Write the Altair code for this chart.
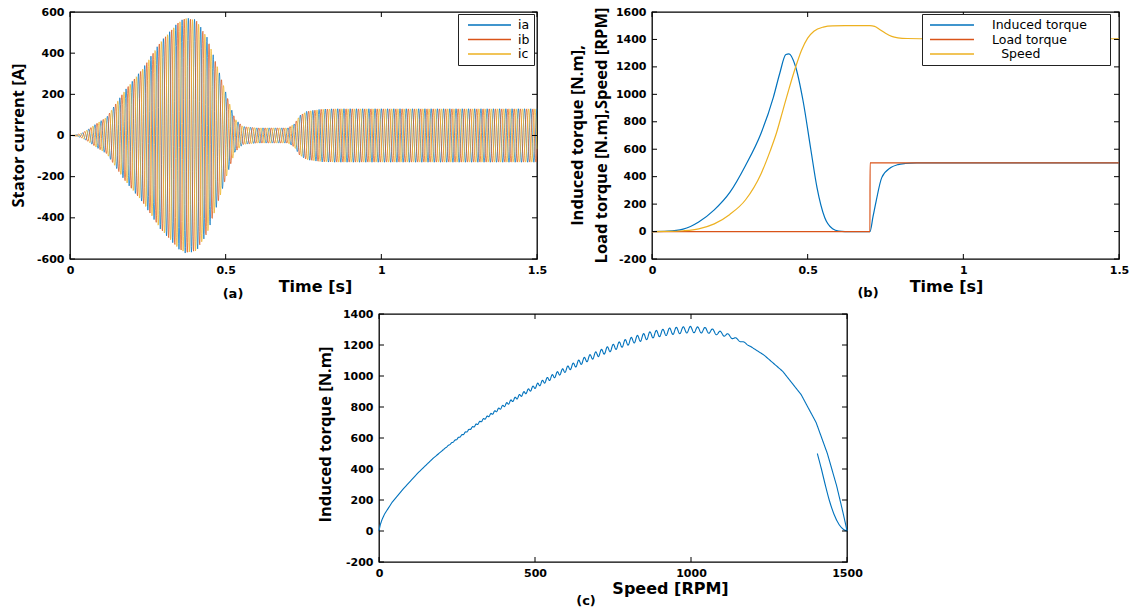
import numpy as np
import pandas as pd
import altair as alt

BLUE, ORANGE, YELLOW = "#0072BD", "#D95319", "#EDB120"

# ---------------- (a) stator currents ----------------
# envelope (peak amplitude, A)
a_env_time = [0, 0.02, 0.038, 0.061, 0.084, 0.118, 0.176, 0.233, 0.29, 0.348, 0.371,
              0.405, 0.44, 0.474, 0.509, 0.53, 0.555, 0.6, 0.7, 0.721, 0.738, 0.761,
              0.807, 0.85, 1.5]
a_env_amp = [0, 3, 11, 32, 57, 89, 219, 324, 454, 551, 572,
             563, 478, 332, 170, 81, 44, 37, 37, 57, 97, 118,
             128, 130, 130]
a_series = ["ia", "ib", "ic"]
a_phase_deg = [0, -120, 120]
a_supply_hz = 50
a_xticks = [0, 0.5, 1, 1.5]
a_yticks = [-600, -400, -200, 0, 200, 400, 600]

# ---------------- (b) torques and speed vs time ----------------
BLANK = "\u2800"
b_series = ["Induced torque", "Load torque", "Speed"]
b_legend_labels = ["Induced torque" + BLANK + BLANK, "Load torque", BLANK + "Speed"]
b_ind_time = [0, 0.05, 0.1, 0.15, 0.2, 0.25, 0.3, 0.35, 0.39, 0.41, 0.43, 0.44, 0.46,
              0.485, 0.51, 0.53, 0.555, 0.58, 0.6, 0.62, 0.7, 0.71, 0.72, 0.738,
              0.767, 0.79, 0.814, 0.85, 1.5]
b_ind_torque = [0, 3, 18, 70, 158, 285, 480, 715, 980, 1150, 1290, 1295, 1210,
                955, 600, 320, 100, 20, 3, 0, 0, 110, 222, 393,
                466, 488, 496, 500, 500]
b_load_time = [0, 0.7, 0.7005, 1.5]
b_load_torque = [0, 0, 500, 500]
b_speed_time = [0, 0.05, 0.1, 0.15, 0.2, 0.25, 0.3, 0.35, 0.38, 0.4, 0.42, 0.44, 0.46,
                0.48, 0.5, 0.52, 0.55, 0.58, 0.62, 0.7, 0.715, 0.73, 0.75, 0.77,
                0.79, 0.82, 0.9, 1.5]
b_speed_rpm = [0, 1, 6, 20, 56, 125, 230, 420, 590, 720, 880, 1040, 1190,
               1320, 1410, 1460, 1490, 1499, 1500, 1500, 1495, 1475, 1445, 1422,
               1412, 1407, 1405, 1405]
b_xticks = [0, 0.5, 1, 1.5]
b_yticks = [-200, 0, 200, 400, 600, 800, 1000, 1200, 1400, 1600]

# ---------------- (c) torque vs speed ----------------
c_speed = [0, 4, 10, 18, 42, 77, 125, 173, 220, 280, 340, 400, 459, 519, 578, 638,
           698, 757, 817, 876, 936, 996, 1055, 1115, 1174, 1234, 1294, 1353, 1401,
           1437, 1467, 1487, 1497, 1500]
c_torque = [0, 40, 75, 110, 185, 270, 375, 468, 548, 640, 727, 808, 882, 954, 1020, 1083,
            1140, 1190, 1234, 1267, 1289, 1300, 1294, 1265, 1212, 1135, 1030, 880, 700,
            500, 290, 120, 30, 0]
c_ripple_speed = [0, 200, 250, 350, 450, 550, 650, 750, 850, 950, 1050, 1100, 1150, 1200, 1500]
c_ripple_amp = [0, 0, 3, 6, 10, 14, 18, 20, 22, 22, 18, 13, 6, 0, 0]
c_ripple_period = [10, 10, 11, 12, 14, 16, 18, 19, 20, 22, 24, 25, 26, 26, 26]
c_load_speed = [1405, 1418, 1430, 1443, 1458, 1475, 1490, 1500]
c_load_torque = [500, 400, 300, 200, 110, 40, 8, 0]
c_xticks = [0, 500, 1000, 1500]
c_yticks = [-200, 0, 200, 400, 600, 800, 1000, 1200, 1400]

W, H = 467, 247

LABEL = dict(labelFont="DejaVu Sans", labelFontWeight="bold", labelFontSize=11,
             labelColor="black", ticks=False, domain=False, grid=False,
             labelExpr="datum.value")


def x_axis(values, title, tx, ty):
    return alt.Axis(values=values, title=title, titleX=tx, titleY=ty,
                    titleFont="DejaVu Sans", titleFontSize=16, titleFontWeight="bold",
                    titleColor="black", titleAlign="center", titleBaseline="top",
                    labelFlush=False, labelPadding=5, **LABEL)


def y_axis(values, title, tx, ty):
    return alt.Axis(values=values, title=title, titleX=tx, titleY=ty, titleAngle=270,
                    titleFont="Open Sans", titleFontSize=16.5, titleFontWeight="bold",
                    titleColor="black", titleAlign="center", titleBaseline="middle",
                    titleLineHeight=24, labelPadding=6, **LABEL)


def frame_ticks(xt, yt, w, h, x_enc, y_enc):
    xdf = pd.DataFrame({"x": xt})
    ydf = pd.DataFrame({"y": yt})
    tl = 5
    rule = dict(color="black", strokeWidth=1)
    return [
        alt.Chart(ydf).mark_rule(**rule).encode(y=y_enc, x=alt.value(0), x2=alt.value(tl)),
        alt.Chart(ydf).mark_rule(**rule).encode(y=y_enc, x=alt.value(w - tl), x2=alt.value(w)),
        alt.Chart(xdf).mark_rule(**rule).encode(x=x_enc, y=alt.value(h - tl), y2=alt.value(h)),
        alt.Chart(xdf).mark_rule(**rule).encode(x=x_enc, y=alt.value(0), y2=alt.value(tl)),
    ]


def tag(text, x, y):
    return alt.Chart(pd.DataFrame({"t": [text]})).mark_text(
        font="DejaVu Sans", fontWeight="bold", fontSize=13, color="black",
        align="center", baseline="middle").encode(text="t:N", x=alt.value(x), y=alt.value(y))


def box_legend(lx, ly, path, label_offset, label_expr=None):
    kw = dict(orient="none", legendX=lx, legendY=ly, title=None, fillColor="white",
              strokeColor="#222222", padding=4, symbolType=path, symbolSize=144,
              symbolStrokeWidth=1.4, symbolFillColor="transparent",
              labelFont="DejaVu Sans", labelFontSize=12.5,
              labelColor="black", labelOffset=label_offset, rowPadding=0.5)
    if label_expr:
        kw["labelExpr"] = label_expr
    return alt.Legend(**kw)


# ---- panel (a)
ta = np.round(np.arange(0, 1.5 + 1e-9, 0.001), 4)
env = np.interp(ta, a_env_time, a_env_amp)
a_frames = []
for name, ph in zip(a_series, a_phase_deg):
    a_frames.append(pd.DataFrame({
        "x": ta, "y": env * np.cos(2 * np.pi * a_supply_hz * ta + np.radians(ph)), "series": name}))
a_df = pd.concat(a_frames, ignore_index=True)

ax_enc = alt.X("x:Q", scale=alt.Scale(domain=[0, 1.5], nice=False, zero=False),
               axis=x_axis(a_xticks, "Time [s]", 245, 19))
ay_enc = alt.Y("y:Q", scale=alt.Scale(domain=[-600, 600], nice=False, zero=False),
               axis=y_axis(a_yticks, "Stator current [A]", -52, 123))
a_lines = alt.Chart(a_df).mark_line(strokeWidth=0.7).encode(
    x=ax_enc, y=ay_enc,
    color=alt.Color("series:N", scale=alt.Scale(domain=a_series, range=[BLUE, ORANGE, YELLOW]),
                    legend=box_legend(388, 2, "M-0.17,0H7", 42)),
)
panel_a = alt.layer(a_lines, *frame_ticks(a_xticks, a_yticks, W, H, ax_enc, ay_enc),
                    tag("(a)", 163, 282)).properties(width=W, height=H)

# ---- panel (b)
b_df = pd.concat([
    pd.DataFrame({"x": b_ind_time, "y": b_ind_torque, "series": b_series[0]}),
    pd.DataFrame({"x": b_load_time, "y": b_load_torque, "series": b_series[1]}),
    pd.DataFrame({"x": b_speed_time, "y": b_speed_rpm, "series": b_series[2]}),
], ignore_index=True)
bx_enc = alt.X("x:Q", scale=alt.Scale(domain=[0, 1.5], nice=False, zero=False),
               axis=x_axis(b_xticks, "Time [s]", 294, 19))
by_enc = alt.Y("y:Q", scale=alt.Scale(domain=[-200, 1600], nice=False, zero=False),
               axis=y_axis(b_yticks, ["Induced torque [N.m],", "Load torque [N.m],Speed [RPM]"], -75, 123))
b_expr = ("datum.label == '%s' ? '%s' : datum.label == '%s' ? '%s' : '%s'"
          % (b_series[0], b_legend_labels[0], b_series[1], b_legend_labels[1], b_legend_labels[2]))
b_lines = alt.Chart(b_df).mark_line(strokeWidth=1.2, interpolate="monotone").encode(
    x=bx_enc, y=by_enc,
    color=alt.Color("series:N", scale=alt.Scale(domain=b_series, range=[BLUE, ORANGE, YELLOW]),
                    legend=box_legend(270, 2, "M-0.5,0H6.83", 52, b_expr)),
)
panel_b = alt.layer(b_lines, *frame_ticks(b_xticks, b_yticks, W, H, bx_enc, by_enc),
                    tag("(b)", 216, 281)).properties(width=W, height=H)

# ---- panel (c)
sc = np.arange(0, 1500.5, 1.0)
base = np.interp(sc, c_speed, c_torque)
amp = np.interp(sc, c_ripple_speed, c_ripple_amp)
period = np.interp(sc, c_ripple_speed, c_ripple_period)
phase = 2 * np.pi * np.cumsum(1.0 / period)
c_main = pd.DataFrame({"x": sc, "y": base + amp * np.sin(phase)})
c_load = pd.DataFrame({"x": c_load_speed, "y": c_load_torque})

CW, CH = 468, 248
cx_enc = alt.X("x:Q", scale=alt.Scale(domain=[0, 1500], nice=False, zero=False),
               axis=x_axis(c_xticks, "Speed [RPM]", 291, 18))
cy_enc = alt.Y("y:Q", scale=alt.Scale(domain=[-200, 1400], nice=False, zero=False),
               axis=y_axis(c_yticks, "Induced torque [N.m]", -54, 120))
c_line1 = alt.Chart(c_main).mark_line(strokeWidth=1.1, color=BLUE).encode(x=cx_enc, y=cy_enc)
c_line2 = alt.Chart(c_load).mark_line(strokeWidth=1.1, color=BLUE, interpolate="monotone").encode(
    x=cx_enc, y=cy_enc)
panel_c = alt.layer(c_line1, c_line2, *frame_ticks(c_xticks, c_yticks, CW, CH, cx_enc, cy_enc),
                    tag("(c)", 207, 287)).properties(width=CW, height=CH)

spacer = alt.Chart(pd.DataFrame({"v": [0]})).mark_point(opacity=0).encode(
    x=alt.value(0), y=alt.value(0)).properties(
    width=309, height=CH, view=alt.ViewBackground(stroke="transparent"))

row1 = alt.hconcat(panel_a, panel_b, spacing=115, bounds="flush").resolve_scale(color="independent")
row2 = alt.hconcat(spacer, panel_c, spacing=0, bounds="flush")
chart = alt.vconcat(row1, row2, spacing=302, bounds="flush").resolve_scale(
    color="independent").properties(
    padding={"left": 9, "top": 5, "right": 0, "bottom": 0}, background="white"
).configure_view(stroke="black", strokeWidth=1.3)

chart.save("out.html", embed_options={"renderer": "svg", "actions": False})
